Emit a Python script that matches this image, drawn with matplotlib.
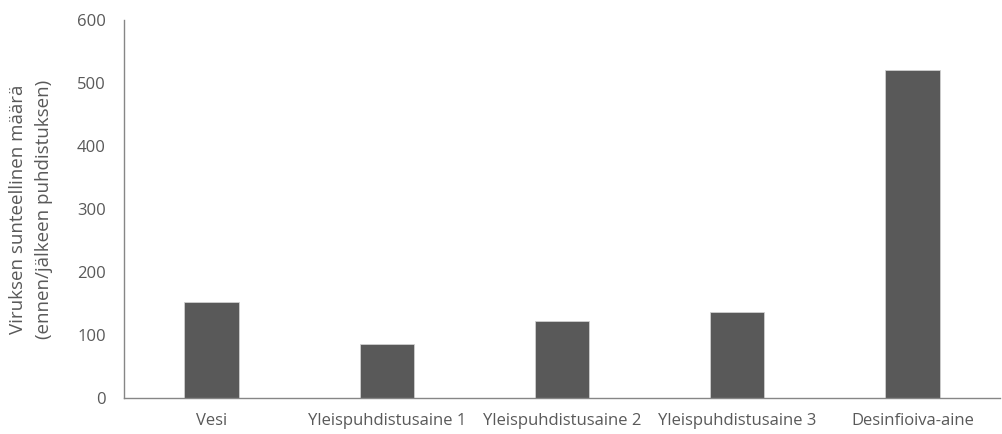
import matplotlib.pyplot as plt

categories = ['Vesi', 'Yleispuhdistusaine 1', 'Yleispuhdistusaine 2',
              'Yleispuhdistusaine 3', 'Desinfioiva-aine']
values = [152, 85, 123, 136, 521]
y_ticks = [0, 100, 200, 300, 400, 500, 600]

plt.rcParams['font.family'] = ['Open Sans', 'DejaVu Sans']

fig = plt.figure(figsize=(10.02, 4.34), dpi=100)
ax = fig.add_axes([124 / 1002, 36 / 434, 876 / 1002, 378 / 434])

x = range(len(categories))
ax.bar(x, values, width=0.31, color='#595959', edgecolor='#d0d0d0', linewidth=0.6)

ax.set_xlim(-0.5, len(categories) - 0.5)
ax.set_ylim(0, 600)
ax.set_yticks(y_ticks)
ax.set_xticks(list(x))
ax.set_xticklabels(categories)
ax.tick_params(axis='both', length=0, labelsize=12, labelcolor='#595959')
ax.tick_params(axis='y', pad=13)
ax.tick_params(axis='x', pad=11)

for s in ['top', 'right']:
    ax.spines[s].set_visible(False)
for s in ['left', 'bottom']:
    ax.spines[s].set_color('#868686')
    ax.spines[s].set_linewidth(1.0)

ax.set_ylabel('Viruksen sunteellinen määrä\n(ennen/jälkeen puhdistuksen)',
              fontsize=13.5, color='#595959', labelpad=17, linespacing=1.6)

fig.savefig('out.png', dpi=100)
